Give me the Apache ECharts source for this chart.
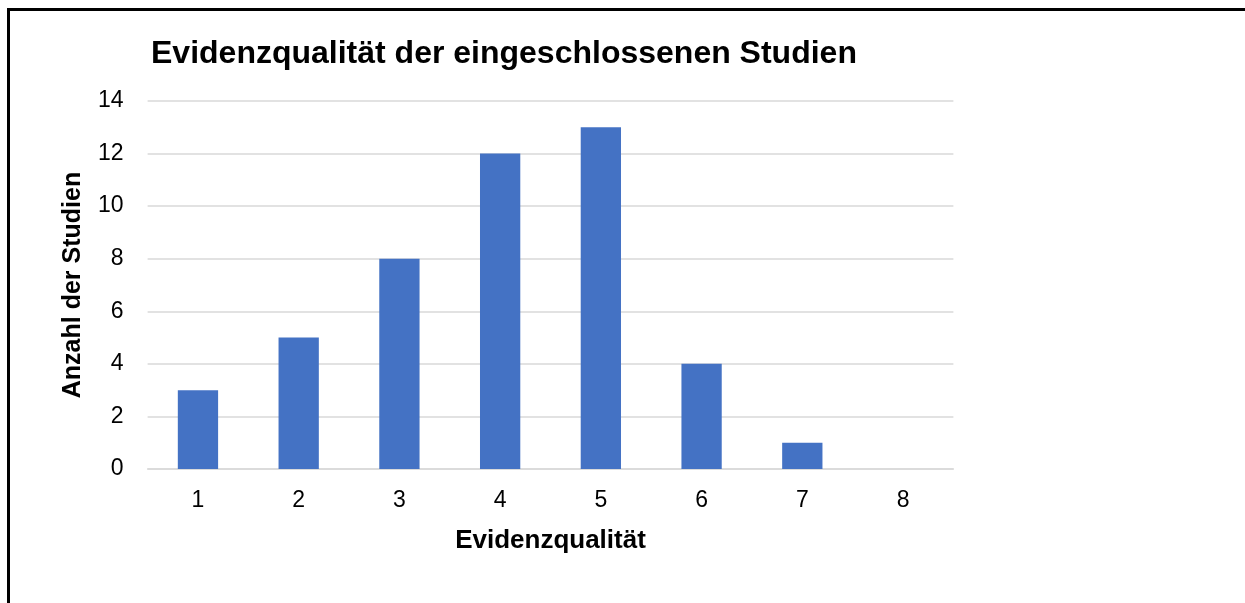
<!DOCTYPE html>
<html>
<head>
<meta charset="utf-8">
<script src="https://cdn.jsdelivr.net/npm/echarts@6/dist/echarts.min.js"></script>
<style>
html,body{margin:0;padding:0;background:#fff;}
#c{width:1245px;height:603px;}
</style>
</head>
<body>
<div id="c"></div>
<script>
const categories = ['1','2','3','4','5','6','7','8'];
const counts = [3, 5, 8, 12, 13, 4, 1, 0];
const yTicks = [0, 2, 4, 6, 8, 10, 12, 14];

const chart = echarts.init(document.getElementById('c'), null, {renderer: 'canvas'});
const FONT = '"Liberation Sans", Arial, sans-serif';
chart.setOption({
  animation: false,
  backgroundColor: '#ffffff',
  title: {
    text: 'Evidenzqualität der eingeschlossenen Studien',
    left: 146, top: 33,
    textStyle: {fontFamily: FONT, fontSize: 32, fontWeight: 'bold', color: '#000'}
  },
  graphic: [
    {type: 'line', shape: {x1: 7, y1: 9.5, x2: 1245, y2: 9.5}, style: {stroke: '#000', lineWidth: 3}},
    {type: 'line', shape: {x1: 8.5, y1: 8, x2: 8.5, y2: 603}, style: {stroke: '#000', lineWidth: 3}}
  ],
  grid: {left: 147.6, right: 291.6, top: 101, bottom: 134, containLabel: false},
  xAxis: {
    type: 'category',
    data: categories,
    name: 'Evidenzqualität',
    nameLocation: 'middle',
    nameGap: 59,
    nameTextStyle: {fontFamily: FONT, fontSize: 26, fontWeight: 'bold', color: '#000'},
    axisLine: {lineStyle: {color: '#d9d9d9', width: 1.5}},
    axisTick: {show: false},
    axisLabel: {fontFamily: FONT, fontSize: 23, color: '#000', margin: 20}
  },
  yAxis: {
    type: 'value',
    min: yTicks[0], max: yTicks[yTicks.length - 1], interval: 2,
    name: 'Anzahl der Studien',
    nameLocation: 'middle',
    nameGap: 62,
    nameTextStyle: {fontFamily: FONT, fontSize: 25, fontWeight: 'bold', color: '#000'},
    axisLine: {show: false},
    axisTick: {show: false},
    axisLabel: {fontFamily: FONT, fontSize: 23, color: '#000', margin: 24},
    splitLine: {lineStyle: {color: '#d9d9d9', width: 1.5}}
  },
  series: [{
    type: 'bar',
    data: counts,
    barWidth: '40%',
    itemStyle: {color: '#4472c4'}
  }]
});
</script>
</body>
</html>
